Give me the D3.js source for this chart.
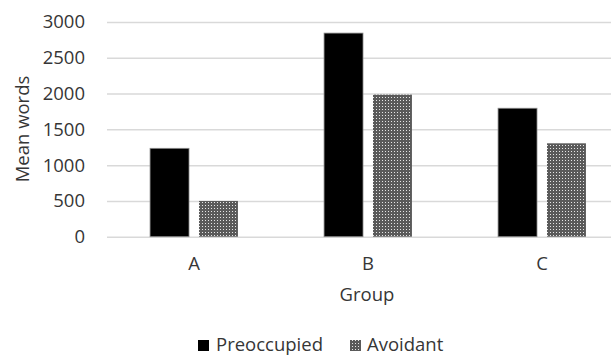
<!DOCTYPE html>
<html><head><meta charset="utf-8">
<script src="https://cdn.jsdelivr.net/npm/d3@7"></script>
<style>body{margin:0;background:#fff;} svg{display:block;font-family:"Open Sans",sans-serif;}</style>
</head><body>
<svg id="c" width="611" height="356"></svg>
<script>
const categories = ["A","B","C"];
const seriesNames = ["Preoccupied","Avoidant"];
const preoccupied = [1235, 2845, 1795];
const avoidant = [500, 1985, 1305];
const yTicks = [0,500,1000,1500,2000,2500,3000];

const svg = d3.select("#c");
const defs = svg.append("defs");
const pat = defs.append("pattern").attr("id","dots").attr("patternUnits","userSpaceOnUse")
  .attr("width",3).attr("height",3);
pat.append("rect").attr("width",3).attr("height",3).attr("fill","#5a5a5a");
pat.append("rect").attr("x",1).attr("y",1).attr("width",1).attr("height",1).attr("fill","#e6e6e6");

const fs = 18.5, tc = "#363636";
const x0 = 107, x1 = 629, yTop = 22, yBot = 236.7;
const x = d3.scaleBand().domain(categories).range([x0,x1]).paddingInner(0).paddingOuter(0);
const y = d3.scaleLinear().domain([0,3000]).range([yBot,yTop]);
const xs = d3.scaleBand().domain(seriesNames).range([0,x.bandwidth()]).paddingInner(0.204).paddingOuter(0.88);

// grid
const yAxis = d3.axisLeft(y).tickValues(yTicks).tickFormat(d3.format("d")).tickSize(-(x1-x0)).tickPadding(22);
const gy = svg.append("g").attr("transform",`translate(${x0},0)`).call(yAxis);
gy.select(".domain").remove();
gy.selectAll(".tick line").attr("stroke","#d9d9d9").attr("stroke-width",1.5);
gy.selectAll(".tick text").attr("font-size",fs).attr("fill",tc).attr("font-family","Open Sans");

const data = categories.map((c,i)=>({c, vals:[preoccupied[i], avoidant[i]]}));
const g = svg.append("g");
data.forEach(d=>{
  d.vals.forEach((v,j)=>{
    g.append("rect")
      .attr("x", x(d.c)+xs(seriesNames[j]))
      .attr("y", y(v))
      .attr("width", xs.bandwidth())
      .attr("height", yBot - y(v))
      .attr("fill", j===0 ? "#000" : "url(#dots)")
      .attr("stroke", j===0 ? "#8c8c8c" : "none")
      .attr("stroke-width", 0.8);
  });
});

// x axis labels
const xAxis = d3.axisBottom(x).tickSize(0).tickPadding(20);
const gx = svg.append("g").attr("transform",`translate(0,${yBot})`).call(xAxis);
gx.select(".domain").remove();
gx.selectAll(".tick text").attr("font-size",fs).attr("fill",tc).attr("font-family","Open Sans");

svg.append("text").attr("x",367).attr("y",301).attr("text-anchor","middle")
  .attr("font-size",fs).attr("fill",tc).text("Group");
svg.append("text").attr("transform","translate(29,129) rotate(-90)").attr("text-anchor","middle")
  .attr("font-size",fs).attr("fill",tc).text("Mean words");

// legend
const leg = svg.append("g");
const legItems = [{name:seriesNames[0], fill:"#000", sx:198, tx:216},{name:seriesNames[1], fill:"url(#dots)", sx:350, tx:367}];
legItems.forEach(it=>{
  leg.append("rect").attr("x",it.sx).attr("y",340).attr("width",11).attr("height",11).attr("fill",it.fill);
  leg.append("text").attr("x",it.tx).attr("y",351).attr("font-size",fs).attr("fill",tc).text(it.name);
});
</script>
</body></html>
